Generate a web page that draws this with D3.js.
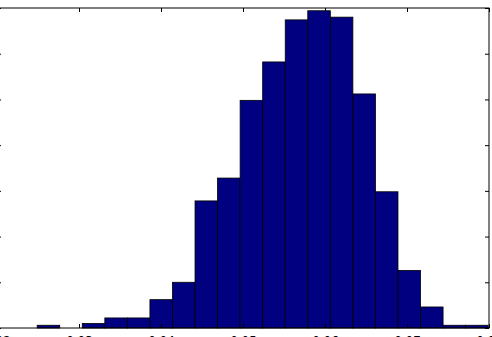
<!DOCTYPE html>
<html>
<head>
<meta charset="utf-8">
<script src="https://cdn.jsdelivr.net/npm/d3@7"></script>
<style>
  html, body { margin: 0; padding: 0; background: #fff; }
  svg { display: block; }
</style>
</head>
<body>
<div id="chart"></div>
<script>
// histogram counts, 20 equal bins between binLo and binHi
const counts = [3, 0, 5, 11, 11, 31, 50, 139, 164, 249, 291, 337, 347, 340, 256, 149, 63, 23, 3, 3];
const binLo = 0.0249;
const binHi = 0.0799;
const xTicks = [0.02, 0.03, 0.04, 0.05, 0.06, 0.07, 0.08];
const yTicks = [0, 50, 100, 150, 200, 250, 300, 350];

const width = 492, height = 337;
// plot frame (left edge sits just off-screen, labels get clipped like the original)
const plotL = -3, plotR = 489, plotT = 8, plotB = 328;

const svg = d3.select('#chart').append('svg')
  .attr('width', width)
  .attr('height', height);

const x = d3.scaleLinear().domain([0.02, 0.08]).range([plotL, plotR]);
const y = d3.scaleLinear().domain([0, 350]).range([plotB, plotT]);

const binW = (binHi - binLo) / counts.length;
const bins = counts.map((c, i) => ({ x0: binLo + i * binW, x1: binLo + (i + 1) * binW, n: c }));

svg.append('g')
  .selectAll('rect')
  .data(bins.filter(d => d.n > 0))
  .enter()
  .append('rect')
  .attr('x', d => x(d.x0))
  .attr('y', d => y(d.n))
  .attr('width', d => x(d.x1) - x(d.x0))
  .attr('height', d => y(0) - y(d.n))
  .attr('fill', '#000080')
  .attr('stroke', '#000')
  .attr('stroke-width', 0.8);

// inward ticks on all four sides, matplotlib classic look
const tickLen = 4;
const fmt = d3.format('.2f');

const bottomAxis = d3.axisBottom(x).tickValues(xTicks).tickSize(-tickLen).tickPadding(8).tickFormat(fmt);
const topAxis = d3.axisTop(x).tickValues(xTicks).tickSize(-tickLen).tickFormat('');
const leftAxis = d3.axisLeft(y).tickValues(yTicks).tickSize(-tickLen).tickPadding(8);
const rightAxis = d3.axisRight(y).tickValues(yTicks).tickSize(-tickLen).tickFormat('');

function styleAxis(g) {
  g.select('.domain').remove();
  g.selectAll('.tick line').attr('stroke', '#000').attr('stroke-width', 1);
  g.selectAll('text')
    .style('font-family', '"DejaVu Sans", sans-serif')
    .style('font-size', '12px')
    .attr('fill', '#000');
}

svg.append('g').attr('transform', `translate(0,${plotB})`).call(bottomAxis).call(styleAxis);
svg.append('g').attr('transform', `translate(0,${plotT})`).call(topAxis).call(styleAxis);
svg.append('g').attr('transform', `translate(${plotL},0)`).call(leftAxis).call(styleAxis);
svg.append('g').attr('transform', `translate(${plotR},0)`).call(rightAxis).call(styleAxis);

// frame
svg.append('rect')
  .attr('x', plotL)
  .attr('y', plotT)
  .attr('width', plotR - plotL)
  .attr('height', plotB - plotT)
  .attr('fill', 'none')
  .attr('stroke', '#000')
  .attr('stroke-width', 1);
</script>
</body>
</html>
